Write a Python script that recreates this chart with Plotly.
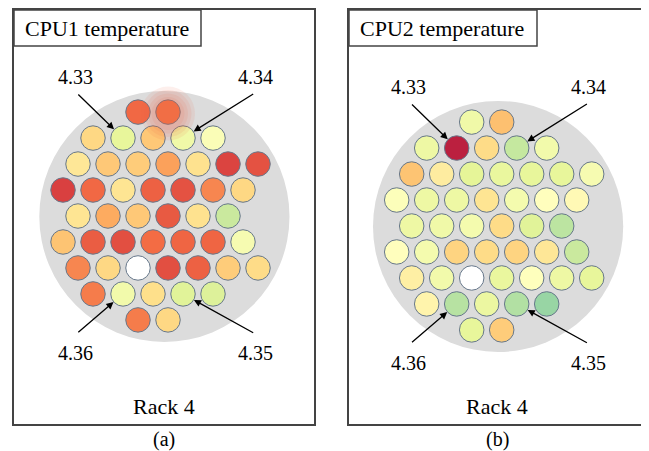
import math
import plotly.graph_objects as go

# ---------------- data ----------------
PANEL_TITLES = ["CPU1 temperature", "CPU2 temperature"]
PANEL_RACK = ["Rack 4", "Rack 4"]
PANEL_TAGS = ["(a)", "(b)"]

# hexagonal rack layout: circles per row and first half-column of each row
ROW_COUNTS = [2, 5, 7, 7, 6, 7, 7, 5, 2]
ROW_FIRST_HALFCOL = [5, 2, 1, 0, 1, 0, 1, 2, 5]

# relative heat (0 = cool/green, 1 = hot/dark red); None = no reading (white)
cpu1_heat = [
    [0.76, 0.73],
    [0.52, 0.26, 0.56, 0.30, 0.35],
    [0.47, 0.56, 0.55, 0.65, 0.49, 0.86, 0.82],
    [0.87, 0.76, 0.48, 0.78, 0.82, 0.70, 0.52],
    [0.48, 0.63, 0.56, 0.80, 0.49, 0.19],
    [0.57, 0.79, 0.83, 0.75, 0.77, 0.77, 0.33],
    [0.70, 0.52, None, 0.83, 0.78, 0.55, 0.51],
    [0.72, 0.31, 0.50, 0.24, 0.23],
    [0.72, 0.52],
]
cpu2_heat = [
    [0.30, 0.58],
    [0.29, 0.94, 0.51, 0.18, 0.31],
    [0.57, 0.45, 0.25, 0.27, 0.26, 0.26, 0.33],
    [0.36, 0.29, 0.29, 0.48, 0.32, 0.38, 0.40],
    [0.29, 0.30, 0.32, 0.51, 0.24, 0.16],
    [0.38, 0.32, 0.53, 0.51, 0.53, 0.47, 0.19],
    [0.44, 0.31, None, 0.27, 0.37, 0.29, 0.26],
    [0.42, 0.15, 0.28, 0.14, 0.09],
    [0.26, 0.55],
]
HEAT = [cpu1_heat, cpu2_heat]

# labelled nodes: (label, row, position in row)
NODE_LABELS = ["4.33", "4.34", "4.36", "4.35"]
NODE_ROWS = [1, 1, 7, 7]
NODE_POS = [1, 3, 1, 3]
# hot-spot glow (panel, row, position)
HOTSPOT = (0, 0, 1)

# ---------------- style ----------------
PAGE_W, PAGE_H = 649, 451
OFF = 8  # default page margin around the plot div
W, H = PAGE_W - OFF, PAGE_H - OFF
FONT = "Liberation Serif, Times New Roman, serif"
COLORSCALE = [
    [0.000, "rgb(102,194,165)"],
    [0.125, "rgb(171,221,164)"],
    [0.250, "rgb(230,245,152)"],
    [0.375, "rgb(255,255,191)"],
    [0.500, "rgb(254,224,139)"],
    [0.625, "rgb(253,174,97)"],
    [0.750, "rgb(243,108,68)"],
    [0.875, "rgb(216,62,64)"],
    [1.000, "rgb(160,5,62)"],
]
PITCH = 30.0  # px per data unit
# panel boxes in page pixels (left, top, right, bottom) and grid-centre pixel
BOXES = [(14, 10, 314, 424), (349, 10, 648, 424)]
CENTRES = [(160.5, 216), (494.2, 226)]
TITLE_BOX_RIGHT = [201, 537]
TITLE_BOX_BOTTOM = 46


def paper(xp, yp):
    return (xp - OFF) / W, 1 - (yp - OFF) / H


def grid_xy(r, i):
    hc = ROW_FIRST_HALFCOL[r] + 2 * i
    return (hc - 6.5) * 0.5, (4 - r) * math.sqrt(3) / 2


fig = go.Figure()
shapes, annotations = [], []

for p in range(2):
    ax_sfx = "" if p == 0 else str(p + 1)
    xa, ya = "x" + ax_sfx, "y" + ax_sfx
    l, t, r_, b = BOXES[p]
    cx, cy = CENTRES[p]
    x_rng = [(l - cx) / PITCH, (r_ - cx) / PITCH]
    y_rng = [(cy - b) / PITCH, (cy - t) / PITCH]
    dl, dt = paper(l, t)
    dr, db = paper(r_, b)
    axis_common = dict(showgrid=False, zeroline=False, showticklabels=False, ticks="",
                       showline=True, mirror=True, linecolor="#444444", linewidth=1.5,
                       fixedrange=True)
    fig.layout["xaxis" + ax_sfx] = dict(domain=[dl, min(dr, 1)], range=x_rng,
                                        anchor=ya, **axis_common)
    fig.layout["yaxis" + ax_sfx] = dict(domain=[db, dt], range=y_rng,
                                        anchor=xa, **axis_common)

    # grey rack disc
    shapes.append(dict(type="circle", xref=xa, yref=ya, x0=-4.04, x1=4.30, y0=-4.2, y1=4.17,
                       fillcolor="#dcdcdc", line=dict(width=0), layer="below"))

    xs, ys, cs, mx, my = [], [], [], [], []
    for r, row in enumerate(HEAT[p]):
        for i, v in enumerate(row):
            x, y = grid_xy(r, i)
            if v is None:
                mx.append(x); my.append(y)
            else:
                xs.append(x); ys.append(y); cs.append(v)
    fig.add_trace(go.Scatter(x=xs, y=ys, xaxis=xa, yaxis=ya, mode="markers",
                             marker=dict(size=24.5, color=cs, colorscale=COLORSCALE, cmin=0, cmax=1,
                                         line=dict(color="#66778a", width=1)),
                             showlegend=False, hoverinfo="skip"))
    fig.add_trace(go.Scatter(x=mx, y=my, xaxis=xa, yaxis=ya, mode="markers",
                             marker=dict(size=24.5, color="white",
                                         line=dict(color="#66778a", width=1)),
                             showlegend=False, hoverinfo="skip"))

    if HOTSPOT[0] == p:
        gx, gy = grid_xy(HOTSPOT[1], HOTSPOT[2])
        gy -= 0.05
        for s in [54, 47, 40, 33]:
            fig.add_trace(go.Scatter(x=[gx], y=[gy], xaxis=xa, yaxis=ya, mode="markers",
                                     marker=dict(size=s, color="rgb(236,100,70)", opacity=0.1,
                                                 line=dict(width=0)),
                                     showlegend=False, hoverinfo="skip"))

    # title box
    x0, y0 = paper(l, t)
    x1, y1 = paper(TITLE_BOX_RIGHT[p], TITLE_BOX_BOTTOM)
    shapes.append(dict(type="rect", xref="paper", yref="paper", x0=x0, x1=x1, y0=y1, y1=y0,
                       fillcolor="white", line=dict(color="#444444", width=1.5)))
    tx, ty = paper((l + TITLE_BOX_RIGHT[p]) / 2 - 1, (t + TITLE_BOX_BOTTOM) / 2 + 1)
    annotations.append(dict(xref="paper", yref="paper", x=tx, y=ty, text=PANEL_TITLES[p],
                            showarrow=False, xanchor="center", yanchor="middle",
                            font=dict(family=FONT, size=22, color="black")))

    # node labels with arrows
    for k, lab in enumerate(NODE_LABELS):
        hx, hy = grid_xy(NODE_ROWS[k], NODE_POS[k])
        left = hx < 0
        top = hy > 0
        tail_x = -2.79 if left else 3.14
        tail_y = 4.1 if top else -3.92
        text_y = 4.62 if top else -4.57
        text_x = -2.85 if left else 3.15
        annotations.append(dict(xref=xa, yref=ya, x=hx, y=hy, axref=xa, ayref=ya,
                                ax=tail_x, ay=tail_y, text="", showarrow=True,
                                arrowhead=2, arrowsize=1.1, arrowwidth=1.3,
                                arrowcolor="black", standoff=12.5))
        annotations.append(dict(xref=xa, yref=ya, x=text_x, y=text_y, text=lab,
                                showarrow=False, xanchor="center", yanchor="middle",
                                font=dict(family=FONT, size=20, color="black")))

    # rack label and panel tag
    rx, ry = paper(cx + 3, 406)
    annotations.append(dict(xref="paper", yref="paper", x=rx, y=ry, text=PANEL_RACK[p],
                            showarrow=False, xanchor="center", yanchor="middle",
                            font=dict(family=FONT, size=22, color="black")))
    px_, py_ = paper(cx + 3, 439)
    annotations.append(dict(xref="paper", yref="paper", x=px_, y=py_, text=PANEL_TAGS[p],
                            showarrow=False, xanchor="center", yanchor="middle",
                            font=dict(family=FONT, size=20, color="black")))

fig.update_layout(width=W, height=H, margin=dict(l=0, r=0, t=0, b=0),
                  paper_bgcolor="white", plot_bgcolor="white",
                  shapes=shapes, annotations=annotations, showlegend=False)

fig.write_html("out.html", config={"displayModeBar": False})
